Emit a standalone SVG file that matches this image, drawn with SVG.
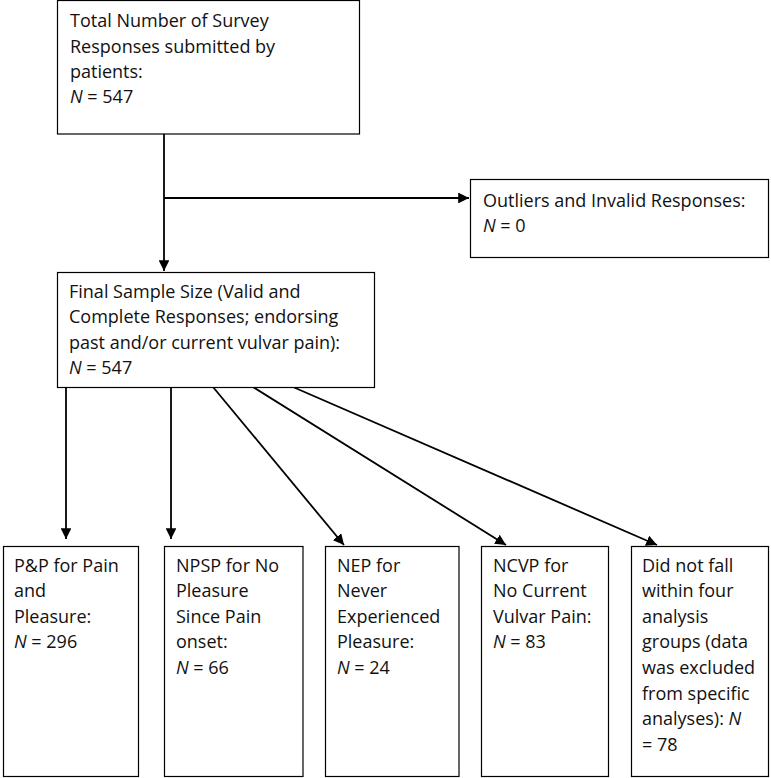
<svg xmlns="http://www.w3.org/2000/svg" width="771" height="778" viewBox="0 0 771 778">
<style>
.box{fill:#fff;stroke:#000;stroke-width:1.2}
.t{font-family:"Open Sans","Liberation Sans",sans-serif;font-size:18px;fill:#111}
.c{fill:none;stroke:#000;stroke-width:1.8}
</style>
<defs>
<marker id="ah" viewBox="0 0 10 10" refX="10" refY="5" markerWidth="6" markerHeight="6" orient="auto" markerUnits="strokeWidth">
<path d="M0,0 L10,5 L0,10 Z" fill="#000"/>
</marker>
</defs>
<rect width="771" height="778" fill="#fff"/>
<g id="connectors">
<line class="c" x1="164" y1="134" x2="164" y2="271" marker-end="url(#ah)"/>
<line class="c" x1="164" y1="198" x2="469" y2="198" marker-end="url(#ah)"/>
<line class="c" x1="66" y1="387" x2="66" y2="539" marker-end="url(#ah)"/>
<line class="c" x1="171" y1="387" x2="171" y2="539" marker-end="url(#ah)"/>
<line class="c" x1="213" y1="387" x2="344" y2="545" marker-end="url(#ah)"/>
<line class="c" x1="253" y1="387" x2="506" y2="545" marker-end="url(#ah)"/>
<line class="c" x1="293" y1="387" x2="657" y2="545" marker-end="url(#ah)"/>
</g>
<g id="n_total">
<rect class="box" x="57.5" y="0.5" width="302" height="133.5"/>
<text class="t" x="70" y="27">Total Number of Survey</text>
<text class="t" x="70" y="53">Responses submitted by</text>
<text class="t" x="70" y="78">patients:</text>
<text class="t" x="70" y="103"><tspan font-style="italic">N</tspan> = 547</text>
</g>
<g id="n_outliers">
<rect class="box" x="470.5" y="179.5" width="298" height="78"/>
<text class="t" x="483" y="207">Outliers and Invalid Responses:</text>
<text class="t" x="483" y="232"><tspan font-style="italic">N</tspan> = 0</text>
</g>
<g id="n_final">
<rect class="box" x="57.5" y="272.5" width="317" height="115"/>
<text class="t" x="69" y="298">Final Sample Size (Valid and</text>
<text class="t" x="69" y="323">Complete Responses; endorsing</text>
<text class="t" x="69" y="349">past and/or current vulvar pain):</text>
<text class="t" x="69" y="374"><tspan font-style="italic">N</tspan> = 547</text>
</g>
<g id="n_pp">
<rect class="box" x="3.5" y="546.5" width="135" height="230"/>
<text class="t" x="14" y="572">P&amp;P for Pain</text>
<text class="t" x="14" y="597">and</text>
<text class="t" x="14" y="623">Pleasure:</text>
<text class="t" x="14" y="648"><tspan font-style="italic">N</tspan> = 296</text>
</g>
<g id="n_npsp">
<rect class="box" x="164.5" y="546.5" width="138.5" height="230"/>
<text class="t" x="176" y="572">NPSP for No</text>
<text class="t" x="176" y="597">Pleasure</text>
<text class="t" x="176" y="623">Since Pain</text>
<text class="t" x="176" y="648">onset:</text>
<text class="t" x="176" y="674"><tspan font-style="italic">N</tspan> = 66</text>
</g>
<g id="n_nep">
<rect class="box" x="325.5" y="546.5" width="133.5" height="230"/>
<text class="t" x="337" y="572">NEP for</text>
<text class="t" x="337" y="597">Never</text>
<text class="t" x="337" y="623">Experienced</text>
<text class="t" x="337" y="648">Pleasure:</text>
<text class="t" x="337" y="674"><tspan font-style="italic">N</tspan> = 24</text>
</g>
<g id="n_ncvp">
<rect class="box" x="481.5" y="546.5" width="127" height="230"/>
<text class="t" x="493" y="572">NCVP for</text>
<text class="t" x="493" y="597">No Current</text>
<text class="t" x="493" y="623">Vulvar Pain:</text>
<text class="t" x="493" y="648"><tspan font-style="italic">N</tspan> = 83</text>
</g>
<g id="n_other">
<rect class="box" x="631.5" y="546.5" width="137" height="230"/>
<text class="t" x="642" y="572">Did not fall</text>
<text class="t" x="642" y="597">within four</text>
<text class="t" x="642" y="623">analysis</text>
<text class="t" x="642" y="648">groups (data</text>
<text class="t" x="642" y="674">was excluded</text>
<text class="t" x="642" y="700">from specific</text>
<text class="t" x="642" y="725">analyses): <tspan font-style="italic">N</tspan></text>
<text class="t" x="642" y="751">= 78</text>
</g>
</svg>
